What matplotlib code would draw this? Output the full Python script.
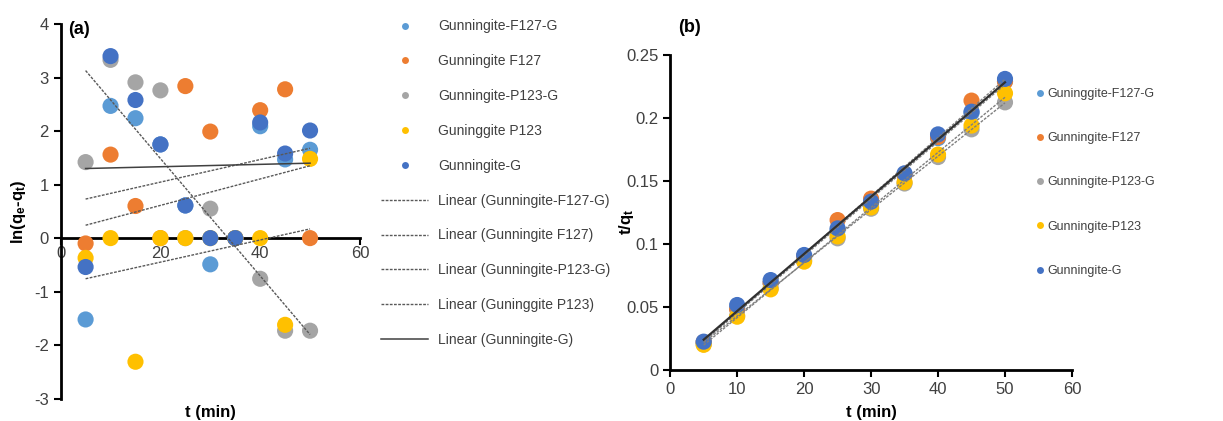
import numpy as np
import matplotlib
matplotlib.use("Agg")
import matplotlib.pyplot as plt
from matplotlib.lines import Line2D

plt.rcParams['font.family'] = ['Liberation Sans', 'DejaVu Sans']
plt.rcParams['mathtext.fontset'] = 'custom'
plt.rcParams['mathtext.rm'] = 'Liberation Sans'
plt.rcParams['mathtext.it'] = 'Liberation Sans'
plt.rcParams['mathtext.bf'] = 'Liberation Sans:bold'
plt.rcParams['axes.unicode_minus'] = False

# time points (min)
t = [5, 10, 15, 20, 25, 30, 35, 40, 45, 50]

# (a) pseudo-first-order: ln(qe-qt)
a_f127g = [-1.52, 2.47, 2.24, 1.75, 0.61, -0.49, 0.0, 2.09, 1.47, 1.65]
a_f127 = [-0.10, 1.56, 0.60, 0.0, 2.84, 1.99, 0.0, 2.39, 2.78, 0.0]
a_p123g = [1.42, 3.33, 2.91, 2.76, 0.0, 0.55, 0.0, -0.76, -1.73, -1.73]
a_p123 = [-0.37, 0.0, -2.31, 0.0, 0.0, 0.0, 0.0, 0.0, -1.62, 1.48]
a_g = [-0.54, 3.40, 2.58, 1.75, 0.61, 0.0, 0.0, 2.16, 1.58, 2.01]

# (a) trendline slope / intercept as shown
a_slope = [0.0211, 0.0247, -0.1096, 0.0207, 0.00222]
a_icpt = [0.624, 0.117, 3.678, -0.863, 1.289]

# (b) pseudo-second-order: t/qt
b_f127g = [0.022, 0.049, 0.069, 0.090, 0.111, 0.133, 0.155, 0.184, 0.204, 0.229]
b_f127 = [0.0222, 0.048, 0.069, 0.090, 0.119, 0.136, 0.155, 0.185, 0.2138, 0.229]
b_p123g = [0.0205, 0.043, 0.065, 0.087, 0.1045, 0.128, 0.148, 0.169, 0.191, 0.2124]
b_p123 = [0.020, 0.0423, 0.064, 0.086, 0.106, 0.129, 0.149, 0.171, 0.194, 0.2196]
b_g = [0.0225, 0.0516, 0.0714, 0.0913, 0.1124, 0.1336, 0.1561, 0.187, 0.205, 0.231]

labels_a = ['Gunningite-F127-G', 'Gunningite F127', 'Gunningite-P123-G',
            'Guninggite P123', 'Gunningite-G']
labels_b = ['Guninggite-F127-G', 'Gunningite-F127', 'Gunningite-P123-G',
            'Gunningite-P123', 'Gunningite-G']
colors = ['#5B9BD5', '#ED7D31', '#A5A5A5', '#FFC000', '#4472C4']

tick_col = '#404040'
fig = plt.figure(figsize=(12.23, 4.21), dpi=100)

# ---------- panel (a) ----------
ax1 = fig.add_axes([0.0496, 0.053, 0.2447, 0.890])
series_a = [a_f127g, a_f127, a_p123g, a_p123, a_g]
for ys, c in zip(series_a, colors):
    ax1.scatter(t, ys, s=135, color=c, edgecolors='none', zorder=3)

tt = np.array([t[0], t[-1]])
for i, (m, b) in enumerate(zip(a_slope, a_icpt)):
    if i == 4:
        ax1.plot(tt, m * tt + b, color='#404040', lw=1.1, zorder=4)
    else:
        ax1.plot(tt, m * tt + b, color='#595959', lw=1.0, ls=(0, (2, 1)), zorder=4)

ax1.set_xlim(0, 60)
ax1.set_ylim(-3, 4)
ax1.set_xticks([0, 20, 40, 60])
ax1.set_yticks(range(-3, 5))
ax1.spines['left'].set_position(('data', 0))
ax1.spines['bottom'].set_position(('data', 0))
ax1.spines['top'].set_visible(False)
ax1.spines['right'].set_visible(False)
for sp in ['left', 'bottom']:
    ax1.spines[sp].set_linewidth(2)
ax1.tick_params(width=1.5, length=5, labelsize=12, colors='black', labelcolor=tick_col)
ax1.tick_params(axis='x', pad=1)
ax1.set_xlabel('t (min)', fontsize=12, fontweight='bold')
ax1.xaxis.set_label_coords(0.5, -0.018)
ax1.set_ylabel(r'ln(q$_\mathbf{e}$-q$_\mathbf{t}$)', fontsize=12, fontweight='bold')
ax1.yaxis.set_label_coords(-0.11, 0.5)
ax1.text(0.025, 0.984, '(a)', transform=ax1.transAxes, fontsize=13, fontweight='bold',
         ha='left', va='center')

h_a = [Line2D([], [], ls='none', marker='o', ms=5, color=c, mec='none') for c in colors]
for i in range(5):
    if i == 4:
        h_a.append(Line2D([], [], color='#404040', lw=1.1))
    else:
        h_a.append(Line2D([], [], color='#595959', lw=1.0, ls=(0, (2, 1))))
lab_a = labels_a + ['Linear (%s)' % l for l in labels_a]
fig.legend(h_a, lab_a, loc='upper left', bbox_to_anchor=(0.3115, 0.954), frameon=False,
           fontsize=10, handlelength=3.4, handletextpad=0.7, labelspacing=1.5,
           borderpad=0, borderaxespad=0, labelcolor='#404040')

# ---------- panel (b) ----------
ax2 = fig.add_axes([0.548, 0.1211, 0.3285, 0.7483])
series_b = [b_f127g, b_f127, b_p123g, b_p123, b_g]
for ys, c in zip(series_b, colors):
    ax2.scatter(t, ys, s=135, color=c, edgecolors='none', zorder=3)
tb = np.array([t[0], t[-1]])
for i, ys in enumerate(series_b):
    m, b = np.polyfit(t, ys, 1)
    if i == 4:
        ax2.plot(tb, m * tb + b, color='#303030', lw=1.6, zorder=4)
    else:
        ax2.plot(tb, m * tb + b, color='#7F7F7F', lw=1.0, ls=(0, (2, 1)), zorder=4)

ax2.set_xlim(0, 60)
ax2.set_ylim(0, 0.25)
ax2.set_xticks(range(0, 61, 10))
ax2.set_yticks([0, 0.05, 0.1, 0.15, 0.2, 0.25])
ax2.set_yticklabels(['0', '0.05', '0.1', '0.15', '0.2', '0.25'])
ax2.spines['top'].set_visible(False)
ax2.spines['right'].set_visible(False)
for sp in ['left', 'bottom']:
    ax2.spines[sp].set_linewidth(2)
ax2.tick_params(width=1.5, length=5, labelsize=12, colors='black', labelcolor=tick_col)
ax2.set_xlabel('t (min)', fontsize=12, fontweight='bold', labelpad=6)
ax2.set_ylabel(r't/q$_\mathbf{t}$', fontsize=12, fontweight='bold')
ax2.yaxis.set_label_coords(-0.086, 0.47)
ax2.text(0.02, 1.086, '(b)', transform=ax2.transAxes, fontsize=13, fontweight='bold',
         ha='left', va='center')

h_b = [Line2D([], [], ls='none', marker='o', ms=5, color=c, mec='none') for c in colors]
fig.legend(h_b, labels_b, loc='upper left', bbox_to_anchor=(0.8475, 0.791), frameon=False,
           fontsize=9, handlelength=0.5, handletextpad=0.35, labelspacing=2.58,
           borderpad=0, borderaxespad=0, labelcolor='#404040')

fig.savefig('out.png', dpi=100)
